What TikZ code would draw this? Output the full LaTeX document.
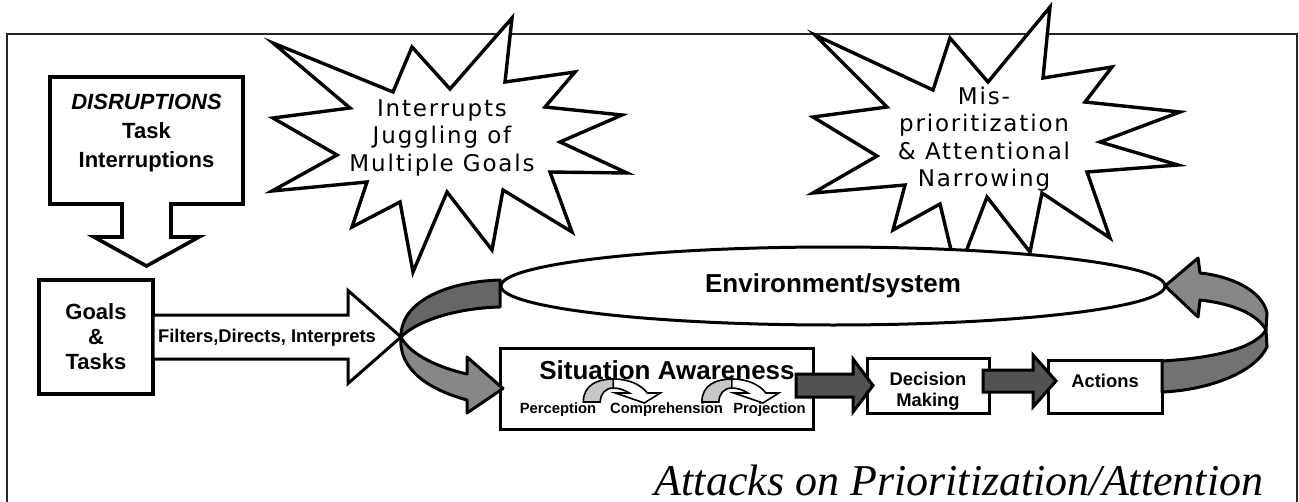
\documentclass[tikz,border=0pt]{standalone}
\usepackage{fontspec}
\setmainfont{Liberation Serif}
\setsansfont{Liberation Sans}
\newfontfamily\burstfont[LetterSpace=8]{DejaVu Sans}
\usetikzlibrary{shapes.geometric, calc}

\begin{document}
\begin{tikzpicture}[x=0.5pt, y=-0.5pt, font=\sffamily\bfseries]
% Setup the styles for boxes, bursts and arrows
\tikzset{
  box/.style={draw, line width=1.5pt, fill=white, inner sep=0pt, outer sep=0pt},
  burst/.style={draw, line width=1.7pt, fill=white},
  burst text/.style={font=\burstfont\fontsize{11.5}{13.75}\selectfont, align=center},
  big label/.style={font=\sffamily\bfseries\fontsize{13}{15}\selectfont},
  box label/.style={font=\sffamily\bfseries\fontsize{11}{12.5}\selectfont, align=center},
  dis label/.style={font=\sffamily\bfseries\fontsize{11}{14.5}\selectfont, align=center},
  small label/.style={font=\sffamily\bfseries\fontsize{9.2}{10.5}\selectfont, align=center},
  tiny label/.style={font=\sffamily\bfseries\fontsize{7.4}{9}\selectfont},
  band/.style={draw, line width=1.5pt, line join=round},
  shaftw/.store in=\shaftw, headw/.store in=\headw, headl/.store in=\headl,
  shaftw=5pt, headw=12pt, headl=10pt,
  block arrow/.style={line width=1.5pt, to path={let \p1=(\tikztostart), \p2=(\tikztotarget) in
      (\x1,\y2+\shaftw) -- (\x2-\headl,\y2+\shaftw) -- (\x2-\headl,\y2+\headw)
      -- (\p2) -- (\x2-\headl,\y2-\headw) -- (\x2-\headl,\y2-\shaftw) -- (\x1,\y2-\shaftw) -- cycle}},
  drop arrow/.style={line width=1.8pt, to path={let \p1=(\tikztostart), \p2=(\tikztotarget) in
      (\x1-\shaftw,\y1+0.9pt) -- (\x1-\shaftw,\y2+\headl) -- (\x1-\headw,\y2+\headl) -- (\x1,\y2)
      -- (\x1+\headw,\y2+\headl) -- (\x1+\shaftw,\y2+\headl) -- (\x1+\shaftw,\y1+0.9pt)}},
  pics/hop/.style={code={
      \draw[line width=0.8pt, fill=black!22] (0,0) .. controls (0,-17) and (14,-23) .. (30,-23)
        -- (30,-14) .. controls (22,-14) and (17,-8) .. (17,0) -- cycle;
      \draw[line width=0.8pt, fill=white] (30,-23) .. controls (46,-23) and (58,-17) .. (64,-9)
        -- (77,-9) -- (61,1) -- (32,-9) -- (46,-9) .. controls (41,-12) and (36,-14) .. (30,-14) -- cycle;
  }}
}
\useasboundingbox (0,0) rectangle (1299,502);
\draw[line width=1pt, black!85] (7,34) rectangle (1297,520);

% Bursts
\draw[burst] (273,43) -- (393,92) -- (412,47) -- (450,89) -- (512,18) -- (505,82) -- (575,72)
  -- (545,107) -- (622,115) -- (560,142) -- (627,173) -- (550,172) -- (572,232) -- (503,190)
  -- (492,250) -- (447,192) -- (413,272) -- (400,202) -- (352,227) -- (367,182) -- (272,191)
  -- (337,155) -- (273,118) -- (350,108) -- cycle;
\draw[burst] (815,35) -- (933,90) -- (950,38) -- (988,82) -- (1050,7) -- (1043,78) -- (1112,67)
  -- (1085,102) -- (1180,112) -- (1100,142) -- (1178,165) -- (1087,172) -- (1110,238) -- (1042,193)
  -- (1030,252) -- (987,197) -- (957,275) -- (940,204) -- (893,230) -- (905,185) -- (813,193)
  -- (877,156) -- (813,117) -- (887,107) -- cycle;
\node[burst text] (juggle) at (442,138) {Interrupts\\Juggling of\\Multiple Goals};
\node[burst text] (narrow) at (984,139) {Mis-\\prioritization\\\& Attentional\\Narrowing};

% Environment
\node[ellipse, box, minimum width=332pt, minimum height=39pt, big label] (env) at (833,286) {Environment/system};

% Disruptions and goals
\node[box, line width=1.8pt, minimum width=96.5pt, minimum height=63.5pt] (dis) at (146.5,140.5) {};
\node[dis label] (distext) at (146.5,133) {\textit{DISRUPTIONS}\\Task\\Interruptions};
\node[box, line width=1.8pt, minimum width=57pt, minimum height=57pt, box label] (goals) at (96,337) {Goals\\\&\\Tasks};
\draw[drop arrow, fill=white, shaftw=12.25pt, headw=26.25pt, headl=14.5pt] (dis.south) to ([yshift=7pt]goals.north);

% Filters arrow
\coordinate (pinch) at (401,337);
\draw[block arrow, fill=white, shaftw=11pt, headw=23.25pt, headl=26.5pt] (goals.east) to (pinch);
\node[small label] (filt) at (267,338) {Filters,Directs, Interprets};

% Situation awareness
\node[box, minimum width=156.5pt, minimum height=40.5pt] (sa) at (656.5,388.5) {};
\node[big label] (satitle) at (667,370) {Situation Awareness};
\node[tiny label, anchor=base] (perc) at (558,413) {Perception};
\node[tiny label, anchor=base] (comp) at (666.5,413) {Comprehension};
\node[tiny label, anchor=base] (proj) at (769.5,413) {Projection};
\pic at ([shift={(-20,-11)}]perc.base east) {hop};
\pic at ([shift={(-28,-11)}]comp.base east) {hop};

% Decision and actions
\node[box, minimum width=61pt, minimum height=27.5pt] (dm) at (928,385.5) {};
\node[small label] (dmtext) at (928,391) {Decision\\Making};
\node[box, minimum width=57pt, minimum height=26.5pt, small label, text depth=5.5pt] (act) at (1105,386.5) {Actions};
\draw[block arrow, fill=black!68, shaftw=5.75pt, headw=13.25pt, headl=10pt] ([xshift=-8.5pt]sa.east) to ([xshift=3pt]dm.west);
\draw[block arrow, fill=black!68, shaftw=5.5pt, headw=13pt, headl=11.5pt] ([xshift=-3pt]dm.east) to ([shift={(8,-5.5)}]act.west);

% Curved bands
\coordinate (twist) at (1266,330);
\draw[band, fill=black!60] ([shift={(-1,-6)}]env.west) .. controls +(-60,2) and +(-1,-32) .. (pinch)
  .. controls +(18,-18) and +(-40,1) .. ([shift={(-1,21)}]env.west) -- cycle;
\draw[band, fill=black!47] (pinch) .. controls +(-3,33) and +(-37,-10) .. ([shift={(-33,11.5)}]sa.west)
  -- ([shift={(-33,24.5)}]sa.west) -- ([shift={(3,0)}]sa.west) -- ([shift={(-33,-31.5)}]sa.west)
  -- ([shift={(-33,-14.5)}]sa.west) .. controls +(-27,-6) and +(9,18) .. (pinch) -- cycle;
\draw[band, fill=black!55] ([shift={(0,-25.5)}]act.east) .. controls +(53,-3) and +(-11,18) .. (twist)
  -- ([shift={(1,17)}]twist) .. controls +(-12,25) and +(48,-2) .. ([shift={(0,5.5)}]act.east) -- cycle;
\draw[band, fill=black!47] (twist) -- ([shift={(1,-17)}]twist) .. controls +(-5,-23) and +(30,3) .. ([shift={(35,-13)}]env.east)
  -- ([shift={(33,-28)}]env.east) -- (env.east) -- ([shift={(33,31)}]env.east)
  -- ([shift={(35,14)}]env.east) .. controls +(35,4) and +(-8,-15) .. (twist) -- cycle;

% Title
\node[font=\rmfamily\mdseries\itshape\fontsize{22}{26}\selectfont, anchor=base] (title) at (959,495) {Attacks on Prioritization/Attention};
\end{tikzpicture}
\end{document}
